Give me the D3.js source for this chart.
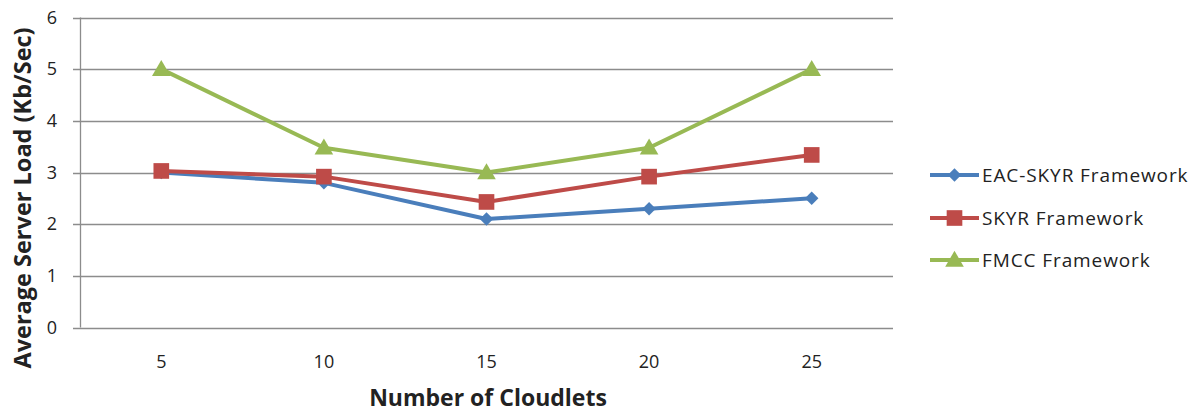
<!DOCTYPE html>
<html>
<head>
<meta charset="utf-8">
<script src="https://cdn.jsdelivr.net/npm/d3@7"></script>
<style>
  body { margin: 0; background: #fff; }
  svg { display: block; }
  text { font-family: "Open Sans", "Noto Sans", sans-serif; fill: #222; }
</style>
</head>
<body>
<svg id="chart" width="1199" height="412"></svg>
<script>
const categories = ["5", "10", "15", "20", "25"];
const eacSkyr = [3.0, 2.8, 2.1, 2.3, 2.5];
const skyr = [3.03, 2.92, 2.43, 2.92, 3.34];
const fmcc = [5.0, 3.48, 3.0, 3.48, 5.0];
const yTicks = [0, 1, 2, 3, 4, 5, 6];
const seriesNames = ["EAC-SKYR Framework", "SKYR Framework", "FMCC Framework"];

const series = [
  { name: seriesNames[0], values: eacSkyr, color: "#4a7ebb", shape: "diamond" },
  { name: seriesNames[1], values: skyr, color: "#be4b48", shape: "square" },
  { name: seriesNames[2], values: fmcc, color: "#98b954", shape: "triangle" }
];

const svg = d3.select("#chart");
const plotLeft = 80, plotRight = 893, plotTop = 17.5, plotBottom = 327.5;

const x = d3.scaleBand().domain(categories).range([plotLeft, plotRight]);
const y = d3.scaleLinear().domain([0, 6]).range([plotBottom, plotTop]);

// horizontal gridlines with short ticks to the left of the axis
const grid = svg.append("g");
grid.selectAll("line").data(yTicks).join("line")
  .attr("x1", plotLeft - 7).attr("x2", plotRight)
  .attr("y1", d => Math.round(y(d)) + 0.5).attr("y2", d => Math.round(y(d)) + 0.5)
  .attr("stroke", "#8c8c8c").attr("stroke-width", 1.3);

// y axis line
svg.append("line")
  .attr("x1", plotLeft + 0.5).attr("x2", plotLeft + 0.5)
  .attr("y1", y(6)).attr("y2", y(0))
  .attr("stroke", "#8c8c8c").attr("stroke-width", 1.3);

// y tick labels
svg.append("g").selectAll("text").data(yTicks).join("text")
  .attr("x", 57).attr("y", d => y(d))
  .attr("dy", "0.35em").attr("text-anchor", "end")
  .style("font-size", "18px")
  .text(d => d);

// x tick labels
svg.append("g").selectAll("text").data(categories).join("text")
  .attr("x", d => x(d) + x.bandwidth() / 2).attr("y", 362)
  .attr("dy", "0.35em")
  .attr("text-anchor", "middle")
  .style("font-size", "18px")
  .text(d => d);

// axis titles
svg.append("text")
  .attr("x", 488).attr("y", 406)
  .attr("text-anchor", "middle")
  .style("font-size", "23px").style("font-weight", "bold")
  .text("Number of Cloudlets");

svg.append("text")
  .attr("transform", "translate(31,198) rotate(-90)")
  .attr("text-anchor", "middle")
  .style("font-size", "23.5px").style("font-weight", "bold")
  .text("Average Server Load (Kb/Sec)");

const symbolFor = shape => {
  if (shape === "diamond") return d3.symbol().type(d3.symbolDiamond2).size(115)();
  if (shape === "square") return d3.symbol().type(d3.symbolSquare).size(245)();
  return d3.symbol().type(d3.symbolTriangle).size(150)();
};

const line = d3.line()
  .x((d, i) => x(categories[i]) + x.bandwidth() / 2)
  .y(d => y(d));

series.forEach(s => {
  const g = svg.append("g");
  g.append("path")
    .attr("d", line(s.values))
    .attr("fill", "none").attr("stroke", s.color)
    .attr("stroke-width", 4).attr("stroke-linejoin", "round");
  g.selectAll("path.marker").data(s.values).join("path")
    .attr("class", "marker")
    .attr("d", symbolFor(s.shape))
    .attr("transform", (d, i) => `translate(${x(categories[i]) + x.bandwidth() / 2},${y(d) + (s.shape === "triangle" ? 1.5 : 0)})`)
    .attr("fill", s.color);
});

// legend
const legend = svg.append("g");
const legendY = [175, 218, 260];
series.forEach((s, i) => {
  const ly = legendY[i];
  legend.append("line")
    .attr("x1", 930).attr("x2", 979).attr("y1", ly).attr("y2", ly)
    .attr("stroke", s.color).attr("stroke-width", 4);
  legend.append("path")
    .attr("d", symbolFor(s.shape))
    .attr("transform", `translate(954.5,${ly + (s.shape === "triangle" ? 1.5 : 0)})`)
    .attr("fill", s.color);
  legend.append("text")
    .attr("x", 982).attr("y", ly).attr("dy", "0.35em")
    .style("font-size", "19px").style("letter-spacing", "0.9px")
    .text(s.name);
});
</script>
</body>
</html>
